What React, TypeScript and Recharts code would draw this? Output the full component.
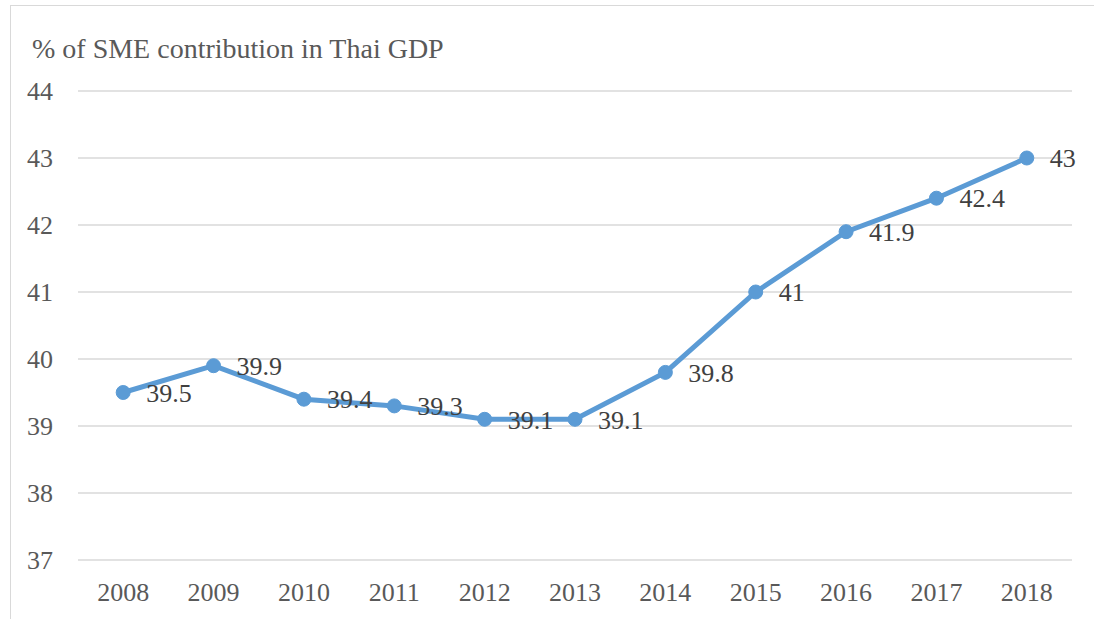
import { LineChart, Line, XAxis, YAxis, CartesianGrid, LabelList } from "recharts";

const years = ["2008", "2009", "2010", "2011", "2012", "2013", "2014", "2015", "2016", "2017", "2018"];
const smeShare = [39.5, 39.9, 39.4, 39.3, 39.1, 39.1, 39.8, 41, 41.9, 42.4, 43];
const yTicks = [37, 38, 39, 40, 41, 42, 43, 44];

const data = years.map((year, i) => ({ year, value: smeShare[i] }));

const font = "Liberation Serif, Tinos, DejaVu Serif, Times New Roman, serif";
const textColor = "#595959";

export default function App() {
  return (
    <div style={{ position: "absolute", left: 0, top: 0, width: 1094, height: 619, background: "#fff" }}>
      <div
        style={{
          position: "absolute",
          left: 10,
          top: 5,
          width: 1084,
          height: 614,
          borderTop: "1px solid #d9d9d9",
          borderLeft: "1px solid #d9d9d9",
        }}
      />
      <div
        style={{
          position: "absolute",
          left: 32,
          top: 35,
          fontFamily: font,
          fontSize: 28,
          color: textColor,
          whiteSpace: "nowrap",
          lineHeight: "28px",
        }}
      >
        % of SME contribution in Thai GDP
      </div>
      <LineChart
        width={1094}
        height={619}
        data={data}
        margin={{ top: 91, right: 22, bottom: 0, left: 0 }}
        style={{ position: "absolute", left: 0, top: 0 }}
      >
        <CartesianGrid vertical={false} stroke="#d9d9d9" strokeWidth={1.5} />
        <XAxis
          dataKey="year"
          scale="band"
          axisLine={false}
          tickLine={false}
          tickSize={0}
          tickMargin={23}
          height={59}
          interval={0}
          tick={{ fill: textColor, fontSize: 26, fontFamily: font }}
        />
        <YAxis
          domain={[37, 44]}
          ticks={yTicks}
          width={78}
          axisLine={false}
          tickLine={false}
          tickSize={0}
          tickMargin={25}
          tick={{ fill: textColor, fontSize: 26, fontFamily: font }}
        />
        <Line
          type="linear"
          dataKey="value"
          stroke="#5b9bd5"
          strokeWidth={5}
          dot={{ r: 7, fill: "#5b9bd5", stroke: "#5b9bd5", strokeWidth: 1 }}
          activeDot={false}
          isAnimationActive={false}
        >
          <LabelList
            dataKey="value"
            position="right"
            offset={23}
            style={{ fill: "#404040", fontSize: 26, fontFamily: font }}
          />
        </Line>
      </LineChart>
    </div>
  );
}
